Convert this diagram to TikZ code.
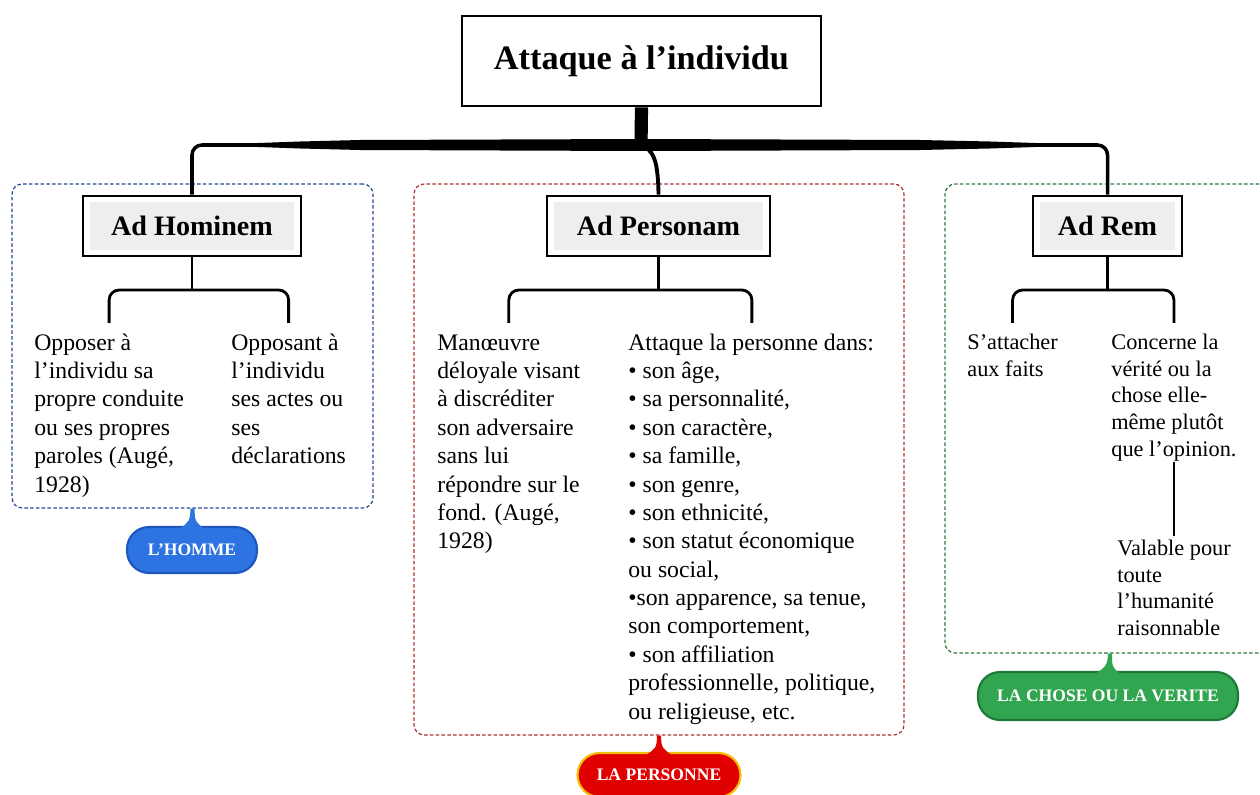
\documentclass[tikz,border=0pt]{standalone}
\usepackage{fontspec}
\setmainfont{Liberation Serif}
\usetikzlibrary{positioning,calc}
\definecolor{zoneblue}{RGB}{40,70,150}
\definecolor{zonered}{RGB}{170,50,50}
\definecolor{zonegreen}{RGB}{50,120,60}
\definecolor{pillblue}{RGB}{45,115,225}
\definecolor{rimblue}{RGB}{30,85,190}
\definecolor{pillred}{RGB}{225,0,0}
\definecolor{rimred}{RGB}{245,190,0}
\definecolor{pillgreen}{RGB}{50,165,80}
\definecolor{rimgreen}{RGB}{30,120,55}

\begin{document}
\begin{tikzpicture}[x=0.02cm, y=-0.02cm]
  \tikzset{
    headbox/.style={draw, line width=1.6pt, fill=white, inner xsep=2pt, minimum width=7.18cm, minimum height=1.8cm, font=\fontsize{19.5}{22}\selectfont\bfseries},
    adbox/.style={draw, line width=1.6pt, fill=white, inner xsep=2pt, minimum height=1.2cm, font=\fontsize{16}{19}\selectfont\bfseries,
      path picture={\fill[gray!13] ([shift={(4pt,3.5pt)}]path picture bounding box.south west) rectangle ([shift={(-4pt,-3.5pt)}]path picture bounding box.north east);}},
    body/.style={anchor=north west, align=left, inner sep=0pt, font=\fontsize{13.5}{16.15}\selectfont},
    small/.style={body, font=\fontsize{12.7}{15.3}\selectfont},
    zone/.style={draw=#1, line width=0.7pt, dash pattern=on 2pt off 1.3pt, rounded corners=0.2cm},
    pill/.style 2 args={draw=#2, fill=#1, line width=1.2pt, text=white, rounded corners=0.44cm, inner xsep=2pt, font=\fontsize{10}{12}\selectfont\bfseries},
    trunk/.style={line width=2pt, rounded corners=0.2cm},
    twig/.style={line width=1.6pt, rounded corners=0.2cm}
  }
  \useasboundingbox (0,0) rectangle (1260,794);

  % dashed zones
  \node[zone=zoneblue, minimum width=7.22cm, minimum height=6.48cm] (zone-hom) at (192.5,346) {};
  \node[zone=zonered, minimum width=9.8cm, minimum height=11.02cm] (zone-per) at (659,459.5) {};
  \node[zone=zonegreen, minimum width=6.6cm, minimum height=9.38cm] (zone-rem) at (1110,418.5) {};

  % headings
  \node[headbox] (title) at (641.5,61) {Attaque à l'individu};
  \node[adbox, minimum width=4.36cm] (hom) at (192,226) {Ad Hominem};
  \node[adbox, minimum width=4.46cm] (per) at (658.5,226) {Ad Personam};
  \node[adbox, minimum width=2.98cm] (rem) at (1107.5,226) {Ad Rem};

  % main trunk
  \coordinate (bar) at (641,145);
  \draw[trunk] (hom.north) |- (bar) -| (rem.north);
  \fill (250,143.3) -- (300,141.5) -- (360,140) -- (641,139) -- (920,140) -- (990,141.5) -- (1045,143.3)
    -- (1045,146.7) -- (990,148.5) -- (920,150) -- (641,151) -- (360,150) -- (300,148.5) -- (250,146.7) -- cycle;
  \draw[line width=7.5pt] (title.south) -- (bar);
  \draw[line width=2.2pt] (bar) .. controls (652,150) and (658,156) .. (per.north);

  % Ad Hominem
  \node[body] (homl) at (34,330) {\strut Opposer à\\l'individu sa\\propre conduite\\ou ses propres\\paroles (Augé,\\1928)};
  \node[body] (homr) at (231,330) {\strut Opposant à\\l'individu\\ses actes ou\\ses\\déclarations};
  \coordinate (homfork) at (192,290);
  \draw[twig] (hom.south) -- (homfork);
  \draw[twig] ([yshift=4pt]homl.north) |- (homfork) -| ([yshift=4pt]homr.north);

  % Ad Personam
  \node[body] (perl) at (437,330) {\strut Manœuvre\\déloyale visant\\à discréditer\\son adversaire\\sans lui\\répondre sur le\\fond. (Augé,\\1928)};
  \node[body] (perr) at (628,330) {\strut Attaque la personne dans:\\• son âge,\\• sa personnalité,\\• son caractère,\\• sa famille,\\• son genre,\\• son ethnicité,\\• son statut économique\\ou social,\\•son apparence, sa tenue,\\son comportement,\\• son affiliation\\professionnelle, politique,\\ou religieuse, etc.};
  \coordinate (perfork) at (658.5,290);
  \draw[twig] (per.south) -- (perfork);
  \draw[twig] ([yshift=4pt]perl.north) |- (perfork) -| ([yshift=4pt]perr.north);

  % Ad Rem
  \node[small] (reml) at (967,330) {\strut S'attacher\\aux faits};
  \node[small] (remr) at (1111,330) {\strut Concerne la\\vérité ou la\\chose elle-\\même plutôt\\que l'opinion.};
  \node[small] (remv) at (1117,536) {\strut Valable pour\\toute\\l'humanité\\raisonnable};
  \coordinate (remfork) at (1107.5,290);
  \draw[twig] (rem.south) -- (remfork);
  \draw[twig] ([yshift=4pt]reml.north) |- (remfork) -| ([yshift=4pt]remr.north);
  \draw[twig] (remr.south) -- (remr.south |- remv.north);

  % labels
  \node[pill={pillblue}{rimblue}, minimum width=2.6cm, minimum height=0.92cm] (pill-hom) at (192,550) {L'HOMME};
  \node[pill={pillred}{rimred}, minimum width=3.26cm, minimum height=0.88cm] (pill-per) at (659,775) {LA PERSONNE};
  \node[pill={pillgreen}{rimgreen}, minimum width=5.2cm, minimum height=0.96cm] (pill-rem) at (1108,696) {LA CHOSE OU LA VERITE};
  \foreach \z/\c in {hom/pillblue, per/pillred, rem/pillgreen} {
    \fill[\c] ([xshift=-1.2pt]zone-\z.south) -- ([xshift=1.2pt]zone-\z.south)
      .. controls ([xshift=1.2pt,yshift=-7pt]zone-\z.south) and ([xshift=2pt,yshift=2pt]pill-\z.north) .. ([xshift=7pt,yshift=-1.5pt]pill-\z.north)
      -- ([xshift=-7pt,yshift=-1.5pt]pill-\z.north)
      .. controls ([xshift=-2pt,yshift=2pt]pill-\z.north) and ([xshift=-1.2pt,yshift=-7pt]zone-\z.south) .. ([xshift=-1.2pt]zone-\z.south) -- cycle;
  }
\end{tikzpicture}
\end{document}
